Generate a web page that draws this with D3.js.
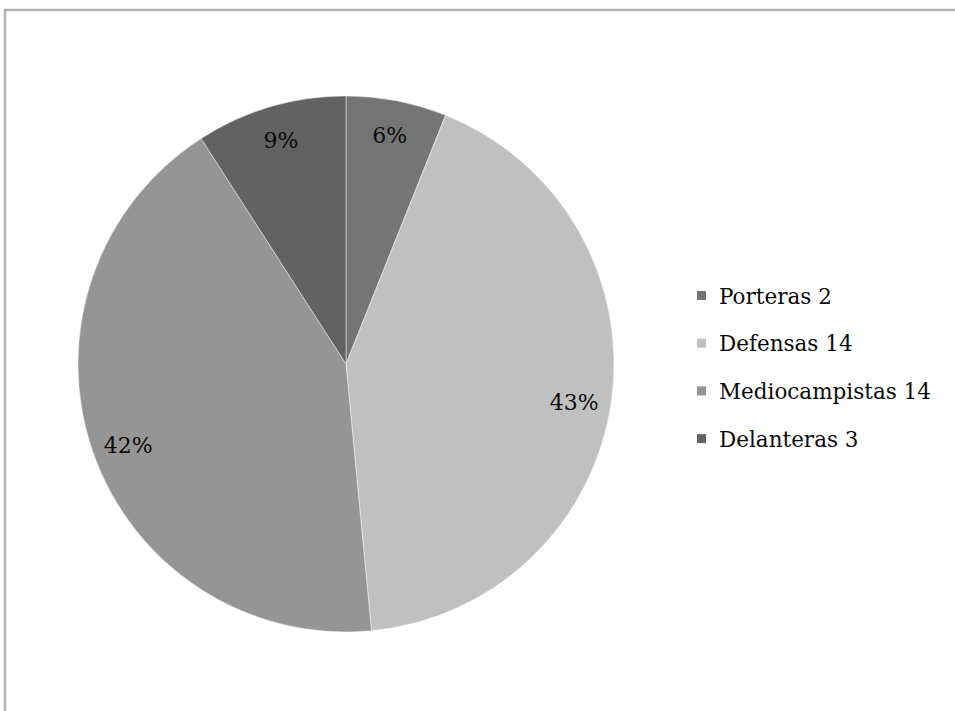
<!DOCTYPE html>
<html><head><meta charset="utf-8">
<script src="https://cdn.jsdelivr.net/npm/d3@7"></script>
<style>body{margin:0;background:#fff}svg{display:block}</style>
</head><body>
<svg id="c" width="955" height="711"></svg>
<script>
const categories = ["Porteras 2", "Defensas 14", "Mediocampistas 14", "Delanteras 3"];
const values = [2, 14, 14, 3];
const percentLabels = ["6%", "43%", "42%", "9%"];
const colors = ["#747474", "#c0c0c0", "#959595", "#626262"];

const svg = d3.select("#c");
const font = "'DejaVu Serif', 'Liberation Serif', serif";

// frame
svg.append("path").attr("d", "M5,711 V10 H955").attr("fill", "none")
  .attr("stroke", "#b3b3b3").attr("stroke-width", 2.5);

const cx = 346, cy = 364, R = 268;
const pie = d3.pie().sort(null).value(d => d);
const arcs = pie(values);
const arc = d3.arc().innerRadius(0).outerRadius(R);
const labelArc = d3.arc().innerRadius(R * 0.86).outerRadius(R * 0.86);

const g = svg.append("g").attr("transform", `translate(${cx},${cy})`);
g.selectAll("path.s").data(arcs).join("path").attr("class", "s")
  .attr("d", arc).attr("fill", (d, i) => colors[i])
  .attr("stroke", "rgba(255,255,255,0.45)").attr("stroke-width", 1);

g.selectAll("text.p").data(arcs).join("text").attr("class", "p")
  .attr("transform", d => { const [x, y] = labelArc.centroid(d); return `translate(${x},${y + (y > 0 ? 6 : -2)})`; })
  .attr("text-anchor", "middle").attr("dominant-baseline", "central")
  .attr("font-family", font).attr("font-size", 22).attr("fill", "#0a0a0a")
  .text((d, i) => percentLabels[i]);

const lg = svg.append("g").attr("transform", "translate(697,296)");
const rows = lg.selectAll("g").data(categories).join("g")
  .attr("transform", (d, i) => `translate(0,${i * 47.7})`);
rows.append("rect").attr("x", 0).attr("y", -5).attr("width", 9).attr("height", 9)
  .attr("fill", (d, i) => colors[i]);
rows.append("text").attr("x", 22).attr("y", 0).attr("dominant-baseline", "central")
  .attr("font-family", font).attr("font-size", 21.5).attr("fill", "#0a0a0a")
  .text(d => d);
</script>
</body></html>
